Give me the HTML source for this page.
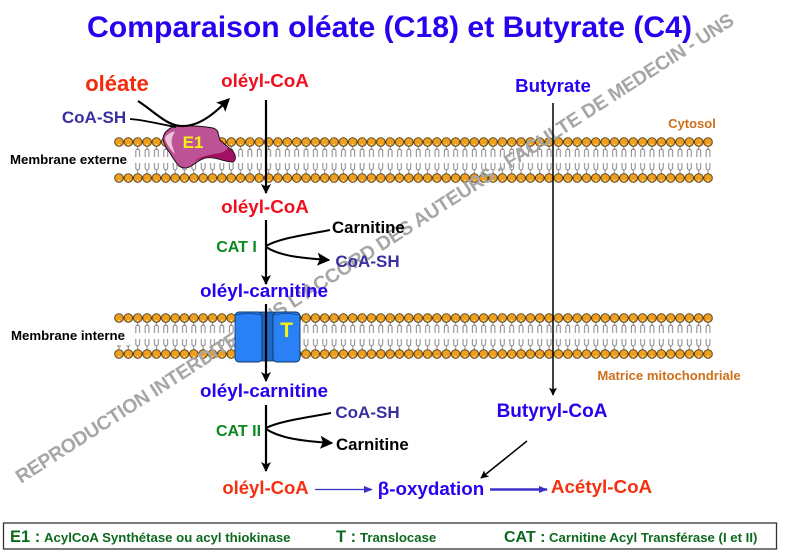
<!DOCTYPE html>
<html><head><meta charset="utf-8">
<style>
html,body{margin:0;padding:0;background:#fff}
svg{display:block}
text{font-family:"Liberation Sans",sans-serif;font-weight:bold}
</style></head><body>
<svg width="787" height="552" viewBox="0 0 787 552" xmlns="http://www.w3.org/2000/svg">
<defs>
<pattern id="hd" x="114.300" y="0" width="9.350" height="552" patternUnits="userSpaceOnUse">
<path d="M4.700 146v4M2.800 157v-6a1.900 1.900 0 0 1 3.800 0v6M2.800 163v5a1.900 1.900 0 0 0 3.800 0v-5M4.700 170v4M4.700 322v4M2.800 333v-6a1.900 1.900 0 0 1 3.800 0v6M2.800 339v5a1.900 1.900 0 0 0 3.800 0v-5M4.700 346v4" fill="none" stroke="#858585" stroke-width="1"/>
<circle cx="4.700" cy="142" r="4.300" fill="#ef9f1e" stroke="#4a3a1a" stroke-width="0.900"/>
<circle cx="4.700" cy="178" r="4.300" fill="#ef9f1e" stroke="#4a3a1a" stroke-width="0.900"/>
<circle cx="4.700" cy="318" r="4.300" fill="#ef9f1e" stroke="#4a3a1a" stroke-width="0.900"/>
<circle cx="4.700" cy="354" r="4.300" fill="#ef9f1e" stroke="#4a3a1a" stroke-width="0.900"/>
<circle cx="4.700" cy="144.500" r="0.800" fill="#ffe9bd"/>
<circle cx="4.700" cy="180.500" r="0.800" fill="#ffe9bd"/>
<circle cx="4.700" cy="320.500" r="0.800" fill="#ffe9bd"/>
<circle cx="4.700" cy="356.500" r="0.800" fill="#ffe9bd"/>
</pattern>
<marker id="a" viewBox="0 0 10 10" refX="9" refY="5" markerWidth="10" markerHeight="10" markerUnits="userSpaceOnUse" orient="auto"><path d="M0 0L10 5L0 10L2.500 5z" fill="#000"/></marker>
<marker id="b" viewBox="0 0 10 10" refX="9" refY="5" markerWidth="13" markerHeight="13" markerUnits="userSpaceOnUse" orient="auto"><path d="M0 0L10 5L0 10L2 5z" fill="#000"/></marker>
<marker id="a2" viewBox="0 0 10 10" refX="9" refY="5" markerWidth="9" markerHeight="9" markerUnits="userSpaceOnUse" orient="auto"><path d="M0 1L10 5L0 9z" fill="#3a32c8"/></marker>
<marker id="a3" viewBox="0 0 10 10" refX="9" refY="5" markerWidth="8" markerHeight="8" markerUnits="userSpaceOnUse" orient="auto"><path d="M0 0L10 5L0 10L2 5z" fill="#000"/></marker>
</defs>

<!-- membranes -->
<rect x="114.300" y="136" width="598.400" height="48" fill="url(#hd)"/>
<rect x="114.300" y="312" width="598.400" height="48" fill="url(#hd)"/>
<rect x="114" y="146.800" width="18" height="26.500" fill="#fff"/>
<rect x="114" y="322.800" width="18" height="26.500" fill="#fff"/>
<path d="M119 349.500v-3.500M128.300 349.500v-3.500M117 346h4M126.300 346h4" stroke="#858585" stroke-width="1" fill="none"/>

<!-- watermark -->
<text transform="translate(21 484) rotate(-32.800)" font-size="19.500" fill="#a6a6a6" textLength="850" lengthAdjust="spacing">REPRODUCTION INTERDITE SANS L'ACCORD DES AUTEURS - FACULTE DE MEDECIN - UNS</text>

<!-- title -->
<text x="389.500" y="37" text-anchor="middle" font-size="29.500" fill="#2a00f0" textLength="605" lengthAdjust="spacingAndGlyphs">Comparaison oléate (C18) et Butyrate (C4)</text>

<!-- E1 -->
<path d="M163 138C164 134 166 131 168 130C171 127 175 126 178 126C183 125 188 126 193 126C200 126 207 127 213 128C216 129 218 131 218 133C219 136 219 138 220 140C223 143 226 145 228 147C231 149 234 152 235 155C236 158 235 161 233 162C229 162 226 161 222 160C216 158 210 157 205 158C202 159 200 160 197 162C193 165 189 168 185 168C182 168 180 167 178 165C175 161 172 157 170 153C168 150 166 148 165 145C164 143 163 140 163 138z" fill="#bd5394" stroke="#1a0a14" stroke-width="1"/>
<path d="M193.500 161.500C199 157 208 155 220 153C224 152 227 150 228 147.500C231 149.500 233.500 152 234.500 155C235.500 158 234.500 160.500 233 161.500C229 161.500 226 160.500 222 159.500C216 157.500 210 156.500 205 157.500C201 158.500 197 160 193.500 161.500z" fill="#a30f62"/>
<path d="M165 138C167 134 171 132 175 131.500C172 136 171 141 172 145C173 148 174 151 175 154C171 150 166 144 165 138z" fill="#eac4da"/>
<text x="193" y="148" text-anchor="middle" font-size="17" fill="#f7f019">E1</text>

<!-- transporter T -->
<rect x="260" y="312" width="15" height="49" fill="#1f68c8" stroke="#12345f" stroke-width="0.800"/>
<rect x="235" y="312" width="27" height="50" rx="4" fill="#2a80f5" stroke="#12345f" stroke-width="0.900"/>
<rect x="273" y="312" width="27" height="50" rx="4" fill="#2a80f5" stroke="#12345f" stroke-width="0.900"/>
<path d="M236 315q12-3 25 0M274 315q13-3 25 0" fill="none" stroke="#0f3f8f" stroke-width="0.800"/>
<text x="286.500" y="337" text-anchor="middle" font-size="21" fill="#f7f019">T</text>

<!-- connectors -->
<g fill="none" stroke="#000" stroke-linecap="butt">
<path d="M138 101C155 112 168 127 183 126C200 126 215 113 229 99" stroke-width="2.200" marker-end="url(#b)"/>
<path d="M130 119C145 120 158 124 176 127" stroke-width="1.800"/>
<path d="M266 100V193" stroke-width="2.200" marker-end="url(#a)"/>
<path d="M266 220V284" stroke-width="2.200" marker-end="url(#a)"/>
<path d="M266 304V381" stroke-width="2.200" marker-end="url(#a)"/>
<path d="M266 405V471" stroke-width="2.200" marker-end="url(#a)"/>
<path d="M266 246C280 238 305 235 330 230" stroke-width="2"/>
<path d="M266 247C280 256 300 258 329 260" stroke-width="2" marker-end="url(#b)"/>
<path d="M266 428C280 421 305 418 331 413" stroke-width="2"/>
<path d="M266 429C280 438 300 441 332 443" stroke-width="2" marker-end="url(#b)"/>
<path d="M553 103V395" stroke-width="1.500" marker-end="url(#a3)"/>
<path d="M527 441L481 478" stroke-width="1.500" marker-end="url(#a3)"/>
</g>
<path d="M315 489.500H372" stroke="#3a32c8" stroke-width="1.300" fill="none" marker-end="url(#a2)"/>
<path d="M490 489.500H547" stroke="#3a32c8" stroke-width="2.400" fill="none" marker-end="url(#a2)"/>

<!-- labels -->
<text x="117" y="91" text-anchor="middle" font-size="22" fill="#f52a0a">oléate</text>
<text x="265" y="87" text-anchor="middle" font-size="18.800" fill="#f00f1e">oléyl-CoA</text>
<text x="94" y="123" text-anchor="middle" font-size="17" fill="#3a2fa0">CoA-SH</text>
<text x="553" y="92" text-anchor="middle" font-size="18.700" fill="#2a00f0">Butyrate</text>
<text x="692" y="128" text-anchor="middle" font-size="13" fill="#cf6f1a">Cytosol</text>
<text x="10" y="164" font-size="13.200" fill="#000" textLength="117" lengthAdjust="spacingAndGlyphs">Membrane externe</text>
<text x="265" y="213" text-anchor="middle" font-size="18.800" fill="#f00f1e">oléyl-CoA</text>
<text x="332" y="233" font-size="16.800" fill="#000">Carnitine</text>
<text x="236.500" y="252" text-anchor="middle" font-size="16" fill="#0a8a1e">CAT I</text>
<text x="367.500" y="267" text-anchor="middle" font-size="17" fill="#3a2fa0">CoA-SH</text>
<text x="264" y="297" text-anchor="middle" font-size="18.900" fill="#2a00f0">oléyl-carnitine</text>
<text x="11" y="340" font-size="13" fill="#000" textLength="114" lengthAdjust="spacingAndGlyphs">Membrane interne</text>
<text x="264" y="397" text-anchor="middle" font-size="18.900" fill="#2a00f0">oléyl-carnitine</text>
<text x="669" y="380" text-anchor="middle" font-size="13.100" fill="#cf6f1a">Matrice mitochondriale</text>
<text x="367.500" y="418" text-anchor="middle" font-size="17" fill="#3a2fa0">CoA-SH</text>
<text x="552" y="417" text-anchor="middle" font-size="19" fill="#2a00f0">Butyryl-CoA</text>
<text x="238.500" y="436" text-anchor="middle" font-size="16" fill="#0a8a1e">CAT II</text>
<text x="336" y="450" font-size="16.800" fill="#000">Carnitine</text>
<text x="265.500" y="494" text-anchor="middle" font-size="18.500" fill="#f5300f">oléyl-CoA</text>
<text x="431" y="495" text-anchor="middle" font-size="18.800" fill="#2a00f0">β-oxydation</text>
<text x="601.500" y="493" text-anchor="middle" font-size="18.800" fill="#f5300f">Acétyl-CoA</text>

<!-- legend -->
<rect x="3.500" y="523" width="773" height="26" fill="#fff" stroke="#333" stroke-width="1.300"/>
<g fill="#0b6a1e">
<text x="10" y="542" font-size="16.500">E1 :</text>
<text x="44" y="542" font-size="13.200">AcylCoA Synthétase ou acyl thiokinase</text>
<text x="336" y="542" font-size="16.500">T :</text>
<text x="360" y="542" font-size="13.200">Translocase</text>
<text x="504" y="542" font-size="16">CAT :</text>
<text x="549" y="542" font-size="13.200">Carnitine Acyl Transférase (I et II)</text>
</g>
</svg>
</body></html>
